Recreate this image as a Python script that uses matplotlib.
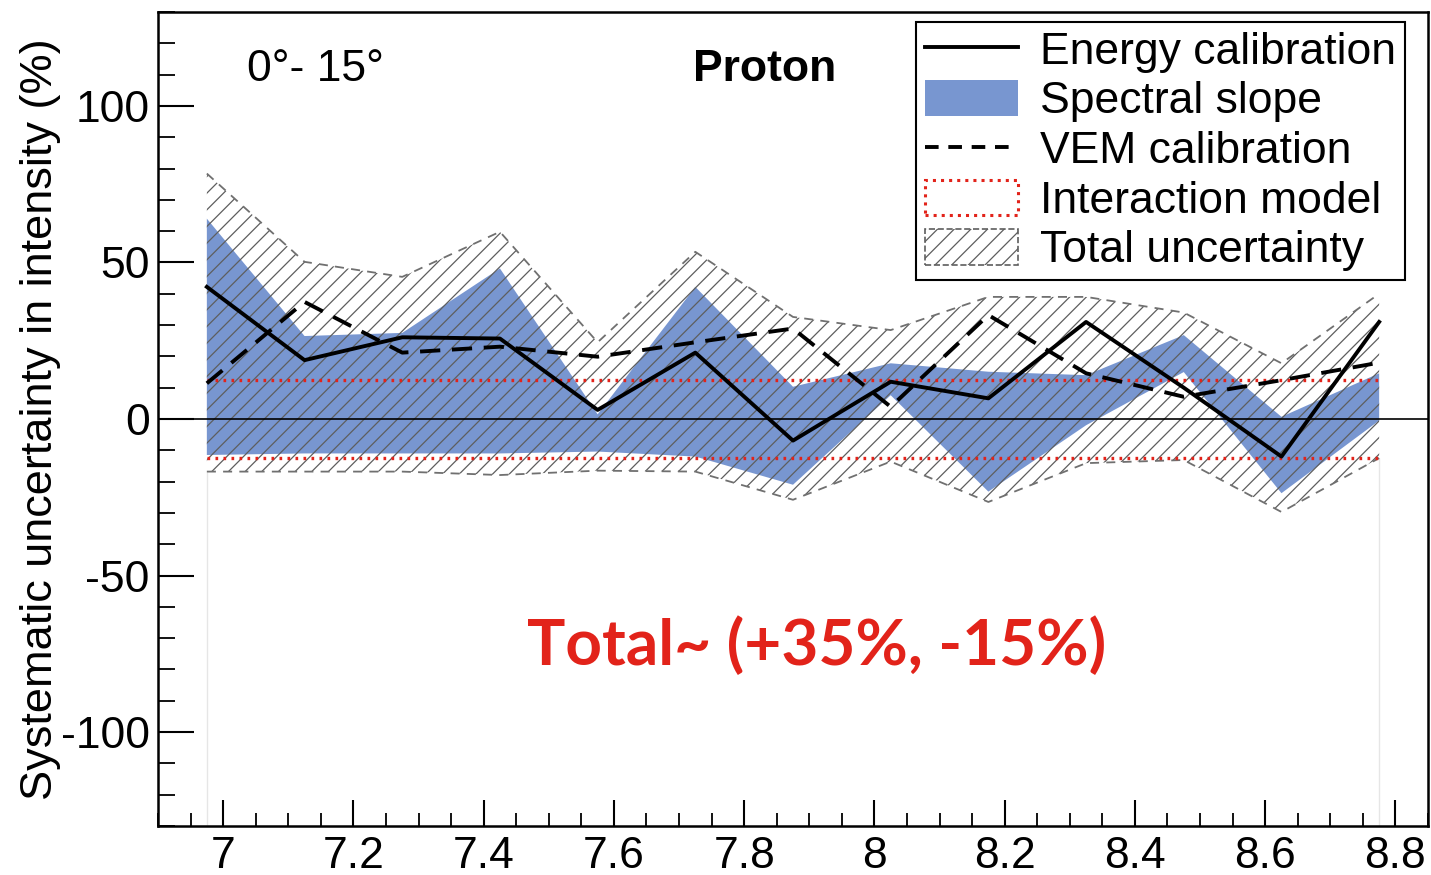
import matplotlib
matplotlib.use("Agg")
import matplotlib.pyplot as plt
from matplotlib.lines import Line2D
from matplotlib.patches import Patch
from matplotlib.ticker import MultipleLocator

plt.rcParams['font.family'] = ['Liberation Sans', 'DejaVu Sans']
plt.rcParams['hatch.linewidth'] = 0.9
plt.rcParams['axes.unicode_minus'] = False

# log10(E) bin centres
log_energy = [6.975, 7.125, 7.275, 7.425, 7.575, 7.725, 7.875, 8.025, 8.175, 8.325, 8.475, 8.625, 8.775]

energy_calibration = [42.2, 18.8, 26.1, 25.7, 2.9, 21.2, -6.9, 11.9, 6.6, 31.0, 10.0, -12.0, 31.0]
vem_calibration = [11.4, 37.4, 21.2, 23.1, 19.9, 24.5, 28.9, 3.9, 33.2, 14.6, 7.1, 12.4, 18.0]

spectral_slope_upper = [64.0, 26.5, 27.5, 48.1, 1.5, 42.2, 10.3, 17.8, 15.1, 14.0, 26.8, 0.7, 14.6]
spectral_slope_lower = [-11.5, -11.0, -11.0, -11.0, -10.4, -12.0, -21.0, 7.6, -23.2, -2.0, 15.0, -23.7, -0.5]

total_upper = [78.4, 50.2, 45.4, 59.8, 24.5, 53.4, 32.6, 28.4, 39.0, 39.0, 34.0, 17.8, 40.0]
total_lower = [-16.8, -16.8, -16.8, -17.9, -16.5, -16.8, -25.8, -13.6, -26.5, -14.1, -13.1, -29.7, -12.5]

interaction_upper = [12.5, 12.5, 12.5, 12.5, 12.5, 12.5, 12.5, 12.5, 12.5, 12.5, 12.5, 12.5, 12.5]
interaction_lower = [-12.5, -12.5, -12.5, -12.5, -12.5, -12.5, -12.5, -12.5, -12.5, -12.5, -12.5, -12.5, -12.5]

legend_labels = ["Energy calibration", "Spectral slope", "VEM calibration",
                 "Interaction model", "Total uncertainty"]

x_ticks = [7.0, 7.2, 7.4, 7.6, 7.8, 8.0, 8.2, 8.4, 8.6, 8.8]
x_tick_labels = ["7", "7.2", "7.4", "7.6", "7.8", "8", "8.2", "8.4", "8.6", "8.8"]
y_ticks = [-100, -50, 0, 50, 100]

blue = '#7896d0'
red = '#e2231a'
grey = '#5e5e5e'

fig = plt.figure(figsize=(14.31, 8.75), dpi=100)
ax = fig.add_axes([158/1431, 1 - 826/875, (1428-158)/1431, (826-12)/875])

# faint bin edge lines
ax.vlines([log_energy[0], log_energy[-1]], -130, [total_lower[0], total_lower[-1]],
          color='#e6e6e6', lw=1.0, zorder=0)

# spectral slope band
ax.fill_between(log_energy, spectral_slope_lower, spectral_slope_upper,
                facecolor=blue, edgecolor='none', lw=0, zorder=1)
# total uncertainty hatch
ax.fill_between(log_energy, total_lower, total_upper, facecolor='none',
                edgecolor=grey, hatch='//', lw=0, zorder=2)
ax.plot(log_energy, total_upper, color='#707070', lw=1.3, ls=(0, (5, 4)), zorder=2)
ax.plot(log_energy, total_lower, color='#707070', lw=1.3, ls=(0, (5, 4)), zorder=2)

# zero line
ax.axhline(0, color='black', lw=1.2, zorder=3)

# interaction model
ax.plot(log_energy, interaction_upper, color=red, lw=2.4, ls=(0, (0.8, 1.6)), zorder=4)
ax.plot(log_energy, interaction_lower, color=red, lw=2.4, ls=(0, (0.8, 1.6)), zorder=4)

# VEM calibration
ax.plot(log_energy, vem_calibration, color='black', lw=2.8, ls=(0, (5.2, 3)), zorder=5)
# energy calibration
ax.plot(log_energy, energy_calibration, color='black', lw=2.8, zorder=6)

ax.set_xlim(6.9, 8.85)
ax.set_ylim(-130, 130)
ax.set_xticks(x_ticks)
ax.set_xticklabels(x_tick_labels)
ax.set_yticks(y_ticks)
ax.xaxis.set_minor_locator(MultipleLocator(0.05))
ax.yaxis.set_minor_locator(MultipleLocator(10))
ax.tick_params(axis='x', which='major', direction='in', length=19, width=1.5,
               labelsize=32, pad=7)
ax.tick_params(axis='x', which='minor', direction='in', length=9.5, width=1.3)
ax.tick_params(axis='y', which='major', direction='in', length=26, width=1.5,
               labelsize=32, pad=6)
ax.tick_params(axis='y', which='minor', direction='in', length=12.5, width=1.3)
for s in ax.spines.values():
    s.set_linewidth(1.8)

ax.set_ylabel("Systematic uncertainty in intensity (%)", fontsize=32.5)
ax.yaxis.set_label_coords(-0.076, 0.5)

ax.text(0.070, 0.929, "0°- 15°", transform=ax.transAxes, fontsize=32,
        ha='left', va='center')
ax.text(0.421, 0.929, "Proton", transform=ax.transAxes, fontsize=32,
        fontweight='bold', ha='left', va='center')
ax.text(0.2906, 0.222, "Total~ (+35%, -15%)", transform=ax.transAxes, fontsize=46,
        fontweight='bold', color=red, ha='left', va='center', family=['Lato', 'DejaVu Sans'])

handles = [
    Line2D([], [], color='black', lw=2.8),
    Patch(facecolor=blue, edgecolor='none'),
    Line2D([], [], color='black', lw=2.8, ls=(0, (3.5, 2.5))),
    Patch(facecolor='none', edgecolor=red, ls=':', lw=2.2),
    Patch(facecolor='none', edgecolor=grey, hatch='//', ls='--', lw=1.2),
]
leg = ax.legend(handles, legend_labels, loc='upper right',
                bbox_to_anchor=(0.982, 0.988), borderaxespad=0, fontsize=32,
                handlelength=2.1, handleheight=0.85, handletextpad=0.5,
                labelspacing=0.17, borderpad=0.2, fancybox=False,
                edgecolor='black', framealpha=1)
leg.get_frame().set_linewidth(1.5)

fig.savefig("out.png", dpi=100)
